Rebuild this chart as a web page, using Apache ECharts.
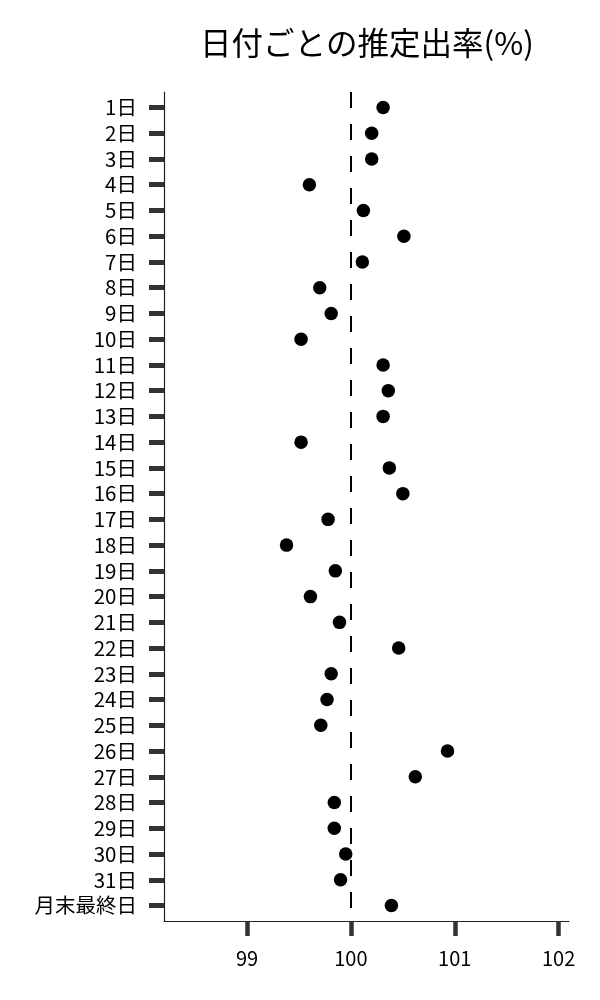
<!DOCTYPE html>
<html>
<head>
<meta charset="utf-8">
<script src="https://cdn.jsdelivr.net/npm/echarts@6/dist/echarts.min.js"></script>
<style>
html,body{margin:0;padding:0;background:#fff;}
#chart{width:600px;height:1000px;}
</style>
</head>
<body>
<div id="chart"></div>
<script>
const categories = ['1日','2日','3日','4日','5日','6日','7日','8日','9日','10日','11日','12日','13日','14日','15日','16日','17日','18日','19日','20日','21日','22日','23日','24日','25日','26日','27日','28日','29日','30日','31日','月末最終日'];
const rates = [100.31,100.20,100.20,99.60,100.12,100.51,100.11,99.70,99.81,99.52,100.31,100.36,100.31,99.52,100.37,100.50,99.78,99.38,99.85,99.61,99.89,100.46,99.81,99.77,99.71,100.93,100.62,99.84,99.84,99.95,99.90,100.39];
const xTicks = [99,100,101,102];
const refValue = 100;

const FONT = '"Noto Sans CJK JP", "Noto Sans", sans-serif';
const rowIdx = categories.map((c, i) => i);
const chart = echarts.init(document.getElementById('chart'));
chart.setOption({
  animation: false,
  backgroundColor: '#fff',
  title: {
    text: '日付ごとの推定出率(%)',
    left: 362, top: 22, textAlign: 'center',
    textStyle: {fontFamily: FONT, fontSize: 31.5, fontWeight: 'normal', color: '#000'}
  },
  grid: {left: 164, right: 31, top: 92, bottom: 79},
  xAxis: {
    type: 'value', min: 98.2, max: 102.1,
    axisLine: {show: true, onZero: false, lineStyle: {color: '#222', width: 1.2}},
    axisTick: {show: true, length: 15, lineStyle: {color: '#333', width: 4.5}, customValues: xTicks},
    axisLabel: {fontFamily: FONT, fontSize: 20, color: '#000', margin: 27, customValues: xTicks},
    splitLine: {show: false}
  },
  yAxis: {
    type: 'value', inverse: true, min: -0.6, max: 31.6,
    axisLine: {show: true, onZero: false, lineStyle: {color: '#222', width: 1.2}},
    axisTick: {show: true, length: 15, lineStyle: {color: '#333', width: 5}, customValues: rowIdx},
    axisLabel: {fontFamily: FONT, fontSize: 20.5, color: '#000', margin: 27, customValues: rowIdx,
      formatter: v => categories[Math.round(v)] || ''},
    splitLine: {show: false}
  },
  series: [{
    type: 'scatter',
    data: rates.map((v, i) => [v, i]),
    symbolSize: 13.5,
    itemStyle: {color: '#000', opacity: 1},
    emphasis: {disabled: true},
    z: 3,
    markLine: {
      silent: true, symbol: 'none', label: {show: false},
      lineStyle: {color: '#000', width: 2, type: [16, 16]},
      data: [{xAxis: refValue}]
    }
  }]
});
</script>
</body>
</html>
